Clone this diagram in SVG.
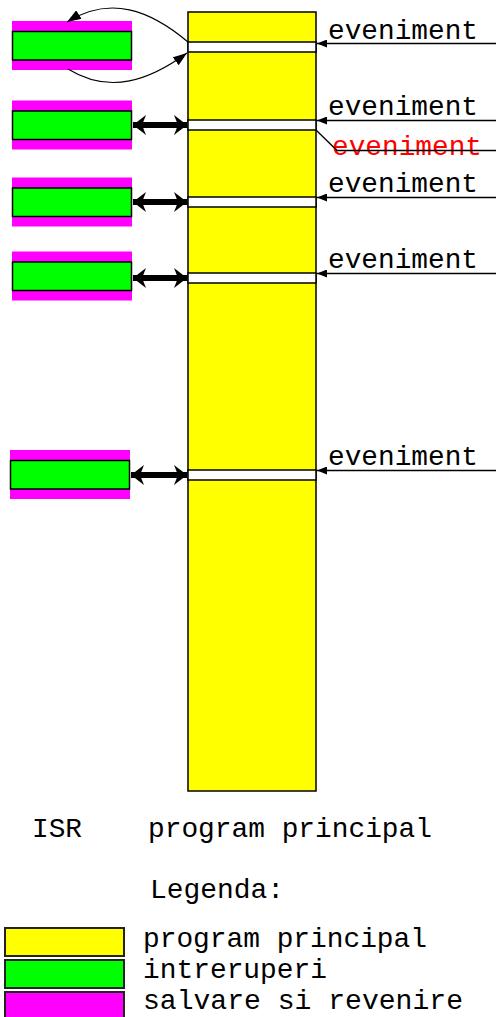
<svg xmlns="http://www.w3.org/2000/svg" width="496" height="1017" viewBox="0 0 496 1017">
<style>
.t{font-family:"Liberation Mono","Courier New",monospace;font-size:28px;fill:#000}
.red{fill:#ff0000}
.mag{fill:#ff00ff}
.grn{fill:#00ff00;stroke:#000;stroke-width:1.5}
.yel{fill:#ffff00;stroke:#000;stroke-width:1.5}
.band{fill:#fff;stroke:#000;stroke-width:1.5}
.ev{stroke:#000;stroke-width:1.3;fill:none}
.thick{stroke:#000;stroke-width:6;fill:none}
.curve{stroke:#000;stroke-width:1.2;fill:none}
.leg{stroke:#222;stroke-width:2}
</style>
<defs>
<marker id="ah" markerWidth="10" markerHeight="8" refX="10" refY="4" orient="auto" markerUnits="userSpaceOnUse">
<path d="M0,0 L10,4 L0,8 Z" fill="#000"/>
</marker>
<marker id="big" markerWidth="13" markerHeight="20" refX="13" refY="10" orient="auto-start-reverse" markerUnits="userSpaceOnUse">
<path d="M0,0 L13,10 L0,20 L4,10 Z" fill="#000"/>
</marker>
<marker id="cur" markerWidth="14" markerHeight="10" refX="14" refY="5" orient="auto" markerUnits="userSpaceOnUse">
<path d="M0,0 L14,5 L0,10 Z" fill="#000"/>
</marker>
</defs>

<g id="main-program">
<rect class="yel" x="188" y="12" width="128" height="779"/>
<rect class="band" x="188" y="42" width="128" height="10"/>
<rect class="band" x="188" y="120" width="128" height="10"/>
<rect class="band" x="188" y="197" width="128" height="10"/>
<rect class="band" x="188" y="273" width="128" height="10"/>
<rect class="band" x="188" y="470" width="128" height="10"/>
</g>

<g id="isr1"><rect class="mag" x="12" y="21" width="120" height="49"/><rect class="grn" x="12.5" y="31.5" width="119" height="28.5"/></g>
<g id="isr2"><rect class="mag" x="12" y="100.5" width="120" height="49"/><rect class="grn" x="12.5" y="111" width="119" height="28.5"/></g>
<g id="isr3"><rect class="mag" x="12" y="177.5" width="120" height="49"/><rect class="grn" x="12.5" y="188" width="119" height="28.5"/></g>
<g id="isr4"><rect class="mag" x="12" y="251.5" width="120" height="49"/><rect class="grn" x="12.5" y="262" width="119" height="28.5"/></g>
<g id="isr5"><rect class="mag" x="10" y="450" width="120" height="49"/><rect class="grn" x="10.5" y="460.5" width="119" height="28.5"/></g>

<g id="events">
<text class="t" x="328" y="39" textLength="150" lengthAdjust="spacingAndGlyphs">eveniment</text>
<text class="t" x="328" y="115" textLength="150" lengthAdjust="spacingAndGlyphs">eveniment</text>
<text class="t red" x="332" y="155" textLength="150" lengthAdjust="spacingAndGlyphs">eveniment</text>
<text class="t" x="328" y="192" textLength="150" lengthAdjust="spacingAndGlyphs">eveniment</text>
<text class="t" x="328" y="268" textLength="150" lengthAdjust="spacingAndGlyphs">eveniment</text>
<text class="t" x="328" y="465" textLength="150" lengthAdjust="spacingAndGlyphs">eveniment</text>
</g>

<g id="connectors">
<line class="ev" x1="496" y1="43.5" x2="317" y2="43.5" marker-end="url(#ah)"/>
<line class="ev" x1="496" y1="120.5" x2="317" y2="120.5" marker-end="url(#ah)"/>
<line class="ev" x1="496" y1="197.5" x2="317" y2="197.5" marker-end="url(#ah)"/>
<line class="ev" x1="496" y1="273.5" x2="317" y2="273.5" marker-end="url(#ah)"/>
<line class="ev" x1="496" y1="470.5" x2="317" y2="470.5" marker-end="url(#ah)"/>
<polyline class="ev" points="316,130 337,150.5 496,150.5"/>
<line class="thick" x1="133" y1="125" x2="187" y2="125" marker-start="url(#big)" marker-end="url(#big)"/>
<line class="thick" x1="133" y1="202" x2="187" y2="202" marker-start="url(#big)" marker-end="url(#big)"/>
<line class="thick" x1="133" y1="278" x2="187" y2="278" marker-start="url(#big)" marker-end="url(#big)"/>
<line class="thick" x1="131" y1="475" x2="187" y2="475" marker-start="url(#big)" marker-end="url(#big)"/>
<path class="curve" d="M188,42 C150,10 110,-5 67,22" marker-end="url(#cur)"/>
<path class="curve" d="M68,69 C110,95 150,80 187,53" marker-end="url(#cur)"/>
</g>

<g id="labels">
<text class="t" x="32" y="837" textLength="50" lengthAdjust="spacingAndGlyphs">ISR</text>
<text class="t" x="148" y="837" textLength="284" lengthAdjust="spacingAndGlyphs">program principal</text>
<text class="t" x="150" y="898" textLength="134" lengthAdjust="spacingAndGlyphs">Legenda:</text>
</g>

<g id="legend">
<rect class="leg" x="5" y="928" width="119" height="28" fill="#ffff00"/>
<rect class="leg" x="5" y="960" width="119" height="28" fill="#00ff00"/>
<rect class="leg" x="5" y="992" width="119" height="28" fill="#ff00ff"/>
<text class="t" x="143" y="947" textLength="284" lengthAdjust="spacingAndGlyphs">program principal</text>
<text class="t" x="143" y="978" textLength="184" lengthAdjust="spacingAndGlyphs">intreruperi</text>
<text class="t" x="143" y="1009" textLength="320" lengthAdjust="spacingAndGlyphs">salvare si revenire</text>
</g>
</svg>
